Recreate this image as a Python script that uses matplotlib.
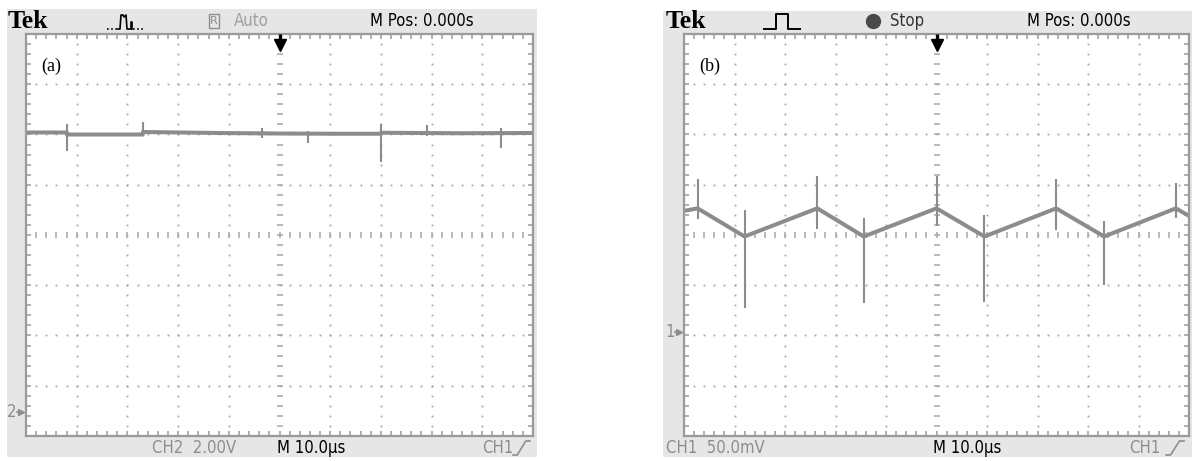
import numpy as np
import matplotlib.pyplot as plt
from matplotlib.patches import Rectangle

# (a) CH2 trace: 2.00 V/div, ground marker 3.5 div below centre, time in us
a_scale = 2.0
a_ground = -3.5
a_t = [-50.0, -42.0, -41.9, -27.0, -26.9, -12.0, 0.0, 12.0, 20.0, 20.1, 35.0, 50.0]
a_v = [11.08, 11.08, 11.00, 11.00, 11.10, 11.06, 11.04, 11.03, 11.03, 11.07, 11.05, 11.06]
a_spike_t = [-41.9, -26.9, -3.5, 5.6, 20.0, 29.1, 43.7]
a_spike_hi = [11.40, 11.48, 11.24, 11.12, 11.40, 11.36, 11.24]
a_spike_lo = [10.36, 11.00, 10.88, 10.68, 9.92, 10.96, 10.48]

# (b) CH1 ripple: 50.0 mV/div, ground marker 2 div below centre
b_scale = 50.0
b_ground = -2.0
b_t = [-50.0, -47.3, -38.0, -23.6, -14.4, 0.0, 9.5, 23.7, 33.2, 47.4, 50.0]
b_v = [124.0, 126.5, 98.5, 126.5, 98.5, 126.5, 98.5, 126.5, 98.5, 126.5, 119.0]
b_spike_t = [-47.3, -38.0, -23.6, -14.4, 0.0, 9.5, 23.7, 33.2, 47.4]
b_spike_hi = [155.3, 124.5, 159.0, 116.5, 158.3, 119.5, 156.0, 114.4, 151.3]
b_spike_lo = [115.5, 27.0, 105.6, 32.0, 108.5, 33.0, 104.6, 50.0, 116.5]

W, H = 1192, 461
TRACE = '#8c8c8c'
GRID = '#a6a6a6'
BEZEL = '#e6e6e6'
TEXT_GREY = '#8e8e8e'
SCOPE_FONT = ['DejaVu Sans']
SERIF = ['Liberation Serif', 'DejaVu Serif']
FS = 12


def to_div(v, scale, ground):
    return np.asarray(v) / scale + ground


def scope_text(ax, x, y, s, **kw):
    kw.setdefault('fontsize', FS)
    ax.text(x, y, s, family=SCOPE_FONT, stretch='condensed', va='center', **kw)


def graticule(ax):
    ax.set_xlim(-50, 50)
    ax.set_ylim(-4, 4)
    ax.set_xticks([])
    ax.set_yticks([])
    for s in ax.spines.values():
        s.set_color('#9a9a9a')
        s.set_linewidth(1.6)
    steps_x = np.arange(-50, 50.01, 2)
    steps_y = np.arange(-4, 4.01, 0.2)
    # dotted division lines
    for gx in [-40, -30, -20, -10, 10, 20, 30, 40]:
        ax.plot(np.full(len(steps_y), gx), steps_y, ls='none', marker='s',
                ms=1.3, color=GRID, mew=0)
    for gy in [-3, -2, -1, 1, 2, 3]:
        ax.plot(steps_x, np.full(len(steps_x), gy), ls='none', marker='s',
                ms=1.3, color=GRID, mew=0)
    # centre cross with small ticks
    ax.plot(np.zeros(len(steps_y)), steps_y, ls='none', marker='_', ms=5,
            mew=1.1, color=GRID)
    ax.plot(steps_x, np.zeros(len(steps_x)), ls='none', marker='|', ms=5,
            mew=1.1, color=GRID)
    # ticks along the border
    ax.vlines(steps_x, 4 - 0.1, 4, color='#9a9a9a', lw=1.1)
    ax.vlines(steps_x, -4, -4 + 0.1, color='#9a9a9a', lw=1.1)
    ax.hlines(steps_y, -50, -50 + 1.0, color='#9a9a9a', lw=1.1)
    ax.hlines(steps_y, 50 - 1.0, 50, color='#9a9a9a', lw=1.1)
    # trigger position arrow
    ax.plot([0, 0], [4.0, 3.82], color='k', lw=2.4, clip_on=False,
            solid_capstyle='butt', zorder=5)
    ax.plot(0, 3.79, marker='v', ms=8, color='k', clip_on=False, zorder=5)


def slope_icon(ax, x0, x1, y_lo, y_hi):
    dx = (x1 - x0) / 4
    ax.plot([x0, x0 + dx, x1 - dx, x1], [y_lo, y_lo, y_hi, y_hi],
            color=TEXT_GREY, lw=1.2)


fig = plt.figure(figsize=(W / 100, H / 100), dpi=100)
bg = fig.add_axes([0, 0, 1, 1])
bg.set_xlim(0, W)
bg.set_ylim(H, 0)
bg.axis('off')

# instrument bezels
bg.add_patch(Rectangle((7, 9), 530, 448, color=BEZEL, lw=0))
bg.add_patch(Rectangle((663, 11), 529, 446, color=BEZEL, lw=0))

# ---- header / footer of panel (a) ----
bg.text(8, 21, 'Tek', family=SERIF, weight='bold', fontsize=18.5, va='center')
bg.plot([107, 118], [29, 29], color='k', lw=1.2, ls=(0, (1, 1.5)))
bg.plot([118, 120, 121, 123, 124, 126, 127, 131, 131, 132, 132],
        [29, 29, 15, 15, 17, 15, 29, 29, 22, 22, 29], color='k', lw=1.2)
bg.plot([133, 143], [29, 29], color='k', lw=1.2, ls=(0, (1, 1.5)))
bg.add_patch(Rectangle((209, 14), 10, 14, fill=False, ec=TEXT_GREY, lw=1))
bg.text(214, 21.5, 'R', family=SCOPE_FONT, fontsize=8, color=TEXT_GREY,
        ha='center', va='center')
scope_text(bg, 234, 21, 'Auto', color='#a0a0a0')
scope_text(bg, 370, 21, 'M Pos: 0.000s')
scope_text(bg, 152, 448, 'CH2  2.00V', color=TEXT_GREY)
scope_text(bg, 277, 448, 'M 10.0\u00b5s')
scope_text(bg, 482, 448, 'CH1', color=TEXT_GREY)
slope_icon(bg, 513, 530, 455, 441)
scope_text(bg, 7, 412, '2', color=TEXT_GREY)
bg.plot(21, 412, marker='>', ms=5, color=TEXT_GREY)
bg.plot([17, 21], [412, 412], color=TEXT_GREY, lw=1.2)

# ---- header / footer of panel (b) ----
bg.text(666, 21, 'Tek', family=SERIF, weight='bold', fontsize=18.5,
        va='center')
bg.plot([764, 776, 776, 788, 788, 800], [29, 29, 14, 14, 29, 29],
        color='k', lw=1.4)
bg.plot(873, 21, marker='o', ms=10, color='#4a4a4a')
scope_text(bg, 890, 21, 'Stop', color='#333333')
scope_text(bg, 1027, 21, 'M Pos: 0.000s')
scope_text(bg, 666, 448, 'CH1  50.0mV', color=TEXT_GREY)
scope_text(bg, 933, 448, 'M 10.0\u00b5s')
scope_text(bg, 1129, 448, 'CH1', color=TEXT_GREY)
slope_icon(bg, 1166, 1184, 455, 441)
scope_text(bg, 665, 332, '1', color=TEXT_GREY)
bg.plot(679, 332, marker='>', ms=5, color=TEXT_GREY)
bg.plot([675, 679], [332, 332], color=TEXT_GREY, lw=1.2)

# ---- graticule screens ----
top, bottom = 34, 436
ax_a = fig.add_axes([26 / W, 1 - bottom / H, 507 / W, (bottom - top) / H])
ax_b = fig.add_axes([684 / W, 1 - bottom / H, 505 / W, (bottom - top) / H])
graticule(ax_a)
graticule(ax_b)

ax_a.plot(a_t, to_div(a_v, a_scale, a_ground), color=TRACE, lw=2.9,
          solid_joinstyle='miter')
ax_a.vlines(a_spike_t, to_div(a_spike_lo, a_scale, a_ground),
            to_div(a_spike_hi, a_scale, a_ground), color=TRACE, lw=1.5)

ax_b.plot(b_t, to_div(b_v, b_scale, b_ground), color=TRACE, lw=2.9)
ax_b.vlines(b_spike_t, to_div(b_spike_lo, b_scale, b_ground),
            to_div(b_spike_hi, b_scale, b_ground), color=TRACE, lw=1.5)

ax_a.text(0.03, 0.92, '(a)', transform=ax_a.transAxes, family=SERIF,
          fontsize=13, va='center')
ax_b.text(0.03, 0.92, '(b)', transform=ax_b.transAxes, family=SERIF,
          fontsize=13, va='center')

fig.savefig('out.png', dpi=100)
